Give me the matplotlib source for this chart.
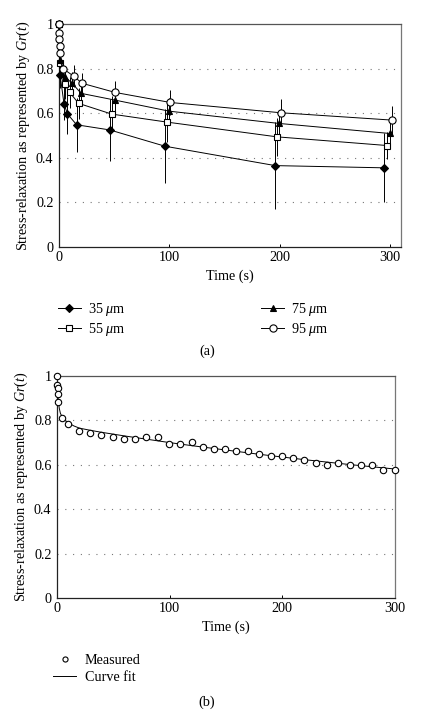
import matplotlib
matplotlib.use("Agg")
import matplotlib.pyplot as plt

plt.rcParams['font.family'] = ['Liberation Serif', 'DejaVu Serif']
plt.rcParams['mathtext.fontset'] = 'custom'
plt.rcParams['mathtext.rm'] = 'Liberation Serif'
plt.rcParams['mathtext.it'] = 'Liberation Serif:italic'

# ---------------- Panel (a) data ----------------
t35 = [0, 1, 4.5, 7.6, 16, 46, 96, 196, 295]
g35 = [1.0, 0.771, 0.643, 0.597, 0.548, 0.525, 0.452, 0.365, 0.355]
e35 = [0.0, 0.06, 0.075, 0.09, 0.12, 0.14, 0.165, 0.195, 0.155]

t55 = [0, 0.8, 5, 9.7, 17.8, 47.8, 98, 197.5, 297.5]
g55 = [1.0, 0.823, 0.729, 0.693, 0.644, 0.596, 0.560, 0.494, 0.455]
e55 = [0.0, 0.05, 0.065, 0.07, 0.07, 0.08, 0.09, 0.085, 0.06]

t75 = [0, 0.3, 0.9, 5.4, 12, 20, 50.5, 100, 199.6, 300]
g75 = [1.0, 0.936, 0.840, 0.763, 0.734, 0.689, 0.659, 0.609, 0.554, 0.509]
e75 = [0.0, 0.0, 0.04, 0.05, 0.05, 0.05, 0.055, 0.06, 0.06, 0.055]

t95 = [0, 0.2, 0.4, 0.6, 0.9, 3.6, 13.3, 21, 51, 101, 201, 302]
g95 = [1.0, 0.958, 0.931, 0.901, 0.868, 0.800, 0.766, 0.734, 0.693, 0.648, 0.602, 0.569]
e95 = [0.0, 0.0, 0.0, 0.0, 0.03, 0.04, 0.05, 0.047, 0.05, 0.056, 0.06, 0.063]

labels_a = ['35 $\\mu$m', '55 $\\mu$m', '75 $\\mu$m', '95 $\\mu$m']

# ---------------- Panel (b) data ----------------
t_meas = [0, 0.3, 0.6, 0.9, 1.2, 4.4, 9.8, 19.2, 29.3, 39.4, 49.5, 59.2, 69, 79.4, 89.4,
          99.5, 109.6, 119.6, 129.7, 139.5, 149.5, 159.3, 169.7, 179.5, 189.5, 199.6,
          209.6, 219.4, 229.5, 239.6, 249.6, 259.7, 269.5, 279.5, 289.6, 299.7]
g_meas = [1.0, 0.958, 0.948, 0.918, 0.883, 0.813, 0.783, 0.752, 0.742, 0.735, 0.725, 0.714,
          0.714, 0.724, 0.724, 0.692, 0.692, 0.702, 0.680, 0.670, 0.670, 0.660, 0.661,
          0.650, 0.640, 0.640, 0.631, 0.620, 0.610, 0.600, 0.610, 0.600, 0.600, 0.600,
          0.577, 0.577]

t_fit = [0, 0.5, 1, 2, 3, 5, 7, 10, 15, 20, 30, 40, 60, 80, 100, 120, 140, 160,
         180, 200, 220, 240, 260, 280, 300]
g_fit = [1.0, 0.95, 0.90, 0.855, 0.832, 0.812, 0.800, 0.789, 0.775, 0.765, 0.755,
         0.746, 0.730, 0.715, 0.700, 0.686, 0.673, 0.660, 0.647, 0.635, 0.623,
         0.612, 0.601, 0.591, 0.581]

yticks = [0, 0.2, 0.4, 0.6, 0.8, 1.0]
ytick_labels = ['0', '0.2', '0.4', '0.6', '0.8', '1']
xticks = [0, 100, 200, 300]
ylabel = 'Stress-relaxation as represented by $Gr(t)$'
xlabel = 'Time (s)'

W, H = 435, 715
fig = plt.figure(figsize=(W / 100, H / 100), dpi=100)

FS = 10.2
LW = 0.7


def style_axes(ax, xmax):
    ax.set_xlim(0, xmax)
    ax.set_ylim(0, 1)
    ax.set_yticks(yticks)
    ax.set_yticklabels(ytick_labels)
    ax.set_xticks(xticks)
    ax.tick_params(axis='x', direction='in', length=2.5, width=0.7, labelsize=FS, pad=3)
    ax.tick_params(axis='y', length=0, labelsize=FS, pad=4)
    for s in ax.spines.values():
        s.set_linewidth(0.9)
    ax.spines['left'].set_color('#222222')
    ax.spines['bottom'].set_color('#222222')
    ax.spines['top'].set_color('#555555')
    ax.spines['right'].set_color('#777777')
    for y in [0.2, 0.4, 0.6, 0.8]:
        ax.axhline(y, color='#777777', lw=0.8, ls=(0, (1, 6)), zorder=0)
    ax.set_xlabel(xlabel, fontsize=FS, labelpad=4)
    ax.set_ylabel(ylabel, fontsize=FS, labelpad=3)


# ---- Panel (a) ----
axa = fig.add_axes([59 / W, 1 - 247 / H, 342 / W, 223 / H])
style_axes(axa, 310)
series = [
    (t35, g35, e35, 'D', 'black', 4.2),
    (t55, g55, e55, 's', 'white', 5.0),
    (t75, g75, e75, '^', 'black', 5.0),
    (t95, g95, e95, 'o', 'white', 5.2),
]
handles = []
for (t, g, e, m, fc, ms), lab in zip(series, labels_a):
    axa.errorbar(t, g, yerr=e, fmt='none', ecolor='black', elinewidth=LW, capsize=0, zorder=2)
    h, = axa.plot(t, g, color='black', lw=LW, marker=m, ms=ms, mfc=fc, mec='black',
                  mew=0.8, zorder=3, clip_on=False, label=lab)
    handles.append(h)

fig.legend(handles=handles, labels=labels_a, loc='upper left',
           bbox_to_anchor=(58 / W, 1 - 301 / H), ncol=2, frameon=False,
           fontsize=FS, borderpad=0, borderaxespad=0, handlelength=1.6,
           handletextpad=0.5, columnspacing=9.6, labelspacing=0.2)
fig.text(207 / W, 1 - 351 / H, '(a)', ha='center', va='center', fontsize=FS)

# ---- Panel (b) ----
axb = fig.add_axes([57 / W, 1 - 598 / H, 338 / W, 222 / H])
style_axes(axb, 300)
hf, = axb.plot(t_fit, g_fit, color='black', lw=LW, zorder=2, label='Curve fit')
hm, = axb.plot(t_meas, g_meas, ls='none', marker='o', ms=4.6, mfc='white', mec='black',
               mew=0.8, zorder=3, clip_on=False, label='Measured')
fig.legend(handles=[hm, hf], labels=['Measured', 'Curve fit'], loc='upper left',
           bbox_to_anchor=(53 / W, 1 - 654 / H), ncol=1, frameon=False,
           fontsize=FS, borderpad=0, borderaxespad=0, handlelength=1.65,
           handletextpad=0.6, labelspacing=0.3, markerscale=0.8)
fig.text(207 / W, 1 - 702 / H, '(b)', ha='center', va='center', fontsize=FS)

fig.savefig('out.png', dpi=100)
